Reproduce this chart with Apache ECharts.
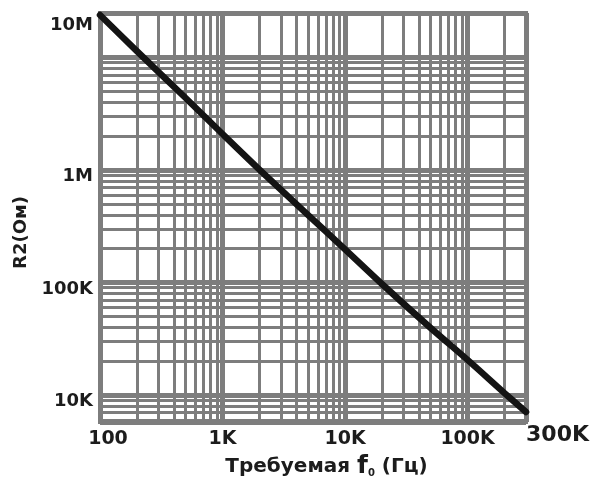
<!DOCTYPE html>
<html><head><meta charset="utf-8">
<script src="https://cdn.jsdelivr.net/npm/echarts@6/dist/echarts.min.js"></script>
<style>html,body{margin:0;padding:0;background:#fff}#c{width:592px;height:498px}</style>
</head><body><div id="c"></div>
<script>
// Data (R2 vs required f0)
const freqHz = [100, 200, 500, 1000, 2000, 5000, 10000, 20000, 50000, 100000, 200000, 300000];
const r2Ohm  = [23.9e6, 11.4e6, 4.37e6, 2.09e6, 1.01e6, 398e3, 197e3, 97e3, 39.4e3, 20.5e3, 10.4e3, 7.06e3];

const xTickValues = [100, 1000, 10000, 100000, 300000];
const xTickLabels = ['100', '1K', '10K', '100K', '300K'];
const yTickValues = [1e4, 1e5, 1e6, 1e7];
const yTickLabels = ['10K', '100K', '1M', '10M'];

const xMin = 100, xMax = 300000;
const yMin = 5750, yMax = 2.49e7;

const xDecades = [100, 1000, 10000, 100000];
const yDecades = [1000, 10000, 100000, 1000000];
const multipliers = [2, 3, 4, 5, 6, 7, 8, 9];

const GRID = '#7d7d7d';
const TXT = '#1c1c1c';

function findLabel(v, vals) {
  for (let i = 0; i < vals.length; i++) {
    if (Math.abs(Math.log10(v) - Math.log10(vals[i])) < 1e-6) return i;
  }
  return -1;
}

const xMinor = [];
xDecades.forEach(d => multipliers.forEach(m => { const v = d * m; if (v < xMax) xMinor.push({ xAxis: v }); }));
const yMinor = [];
yDecades.forEach(d => multipliers.forEach(m => { const v = d * m; if (v > yMin && v < yMax) yMinor.push({ yAxis: v }); }));

const chart = echarts.init(document.getElementById('c'), null, { renderer: 'canvas' });
chart.setOption({
  animation: false,
  backgroundColor: '#fff',
  grid: { left: 100, top: 13, right: 64, bottom: 76, show: true, borderColor: GRID, borderWidth: 4, backgroundColor: 'transparent' },
  xAxis: {
    type: 'log', min: xMin, max: xMax, logBase: 10,
    axisLine: { show: false }, axisTick: { show: false },
    splitLine: { show: true, lineStyle: { color: GRID, width: 5 } },
    axisLabel: {
      margin: 8, color: TXT, fontFamily: 'DejaVu Sans', fontWeight: 'bold', fontSize: 19,
      alignMaxLabel: 'left',
      formatter: function (v) {
        const i = findLabel(v, xTickValues);
        if (i < 0) return '';
        if (i === 0) return '{mn|' + xTickLabels[i] + '}';
        if (i === xTickLabels.length - 1) return '{big|' + xTickLabels[i] + '}';
        return xTickLabels[i];
      },
      rich: {
        mn: { padding: [0, 0, 0, 16], color: TXT, fontFamily: 'DejaVu Sans', fontWeight: 'bold', fontSize: 19 },
        big: { color: TXT, fontFamily: 'DejaVu Sans', fontWeight: 'bold', fontSize: 22, lineHeight: 11 }
      }
    },
    name: '{a|Требуемая }{f|f}{s|0}{a| (Гц)}',
    nameLocation: 'middle', nameGap: 30,
    nameTextStyle: {
      padding: [0, 0, 0, 27],
      rich: {
        a: { fontFamily: 'DejaVu Sans', fontWeight: 'bold', fontSize: 20, color: TXT },
        f: { fontFamily: 'DejaVu Sans', fontWeight: 'bold', fontSize: 25, color: TXT },
        s: { fontFamily: 'DejaVu Sans', fontWeight: 'bold', fontSize: 10, color: TXT, verticalAlign: 'bottom', padding: [8, 0, 0, 0] }
      }
    }
  },
  yAxis: {
    type: 'log', min: yMin, max: yMax, logBase: 10,
    axisLine: { show: false }, axisTick: { show: false },
    splitLine: { show: true, lineStyle: { color: GRID, width: 5 } },
    axisLabel: {
      margin: 7, color: TXT, fontFamily: 'DejaVu Sans', fontWeight: 'bold', fontSize: 18,
      verticalAlign: 'top', lineHeight: 13,
      formatter: function (v) {
        const i = findLabel(v, yTickValues);
        if (i < 0 || i === yTickLabels.length - 1) return '';
        return yTickLabels[i];
      }
    },
    name: 'R2(Ом)', nameLocation: 'middle', nameGap: 63, nameRotate: 90,
    nameTextStyle: { fontFamily: 'DejaVu Sans', fontWeight: 'bold', fontSize: 18, color: TXT, padding: [0, 30, 0, 0] }
  },
  graphic: [{
    type: 'text', x: 93, y: 25, z: 100,
    style: { text: yTickLabels[yTickLabels.length - 1], font: 'bold 18px "DejaVu Sans"', fill: TXT, align: 'right', verticalAlign: 'middle' }
  }],
  series: [
    {
      type: 'line', data: [], silent: true, z: 1,
      markLine: {
        silent: true, symbol: ['none', 'none'], animation: false,
        label: { show: false },
        lineStyle: { type: 'solid', width: 3, color: GRID },
        data: xMinor.concat(yMinor)
      }
    },
    {
      type: 'line', z: 10, smooth: 0.3, showSymbol: false, symbol: 'none',
      lineStyle: { color: '#141414', width: 6.5, cap: 'round', join: 'round' },
      data: freqHz.map((f, i) => [f, r2Ohm[i]])
    }
  ]
});
</script></body></html>
